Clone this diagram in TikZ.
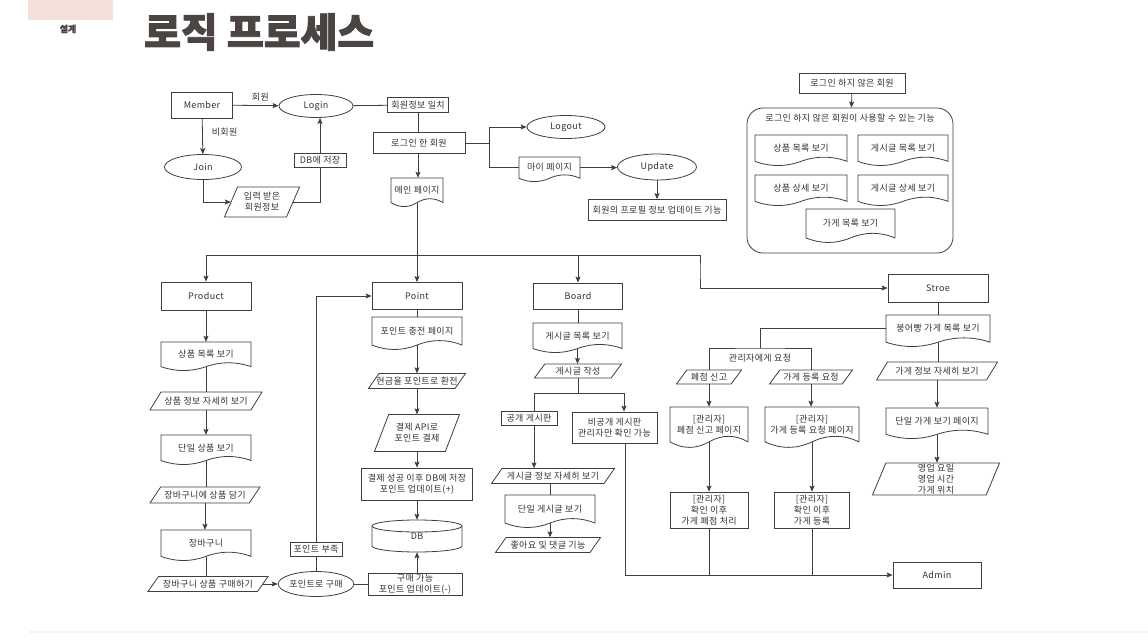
\documentclass[tikz,border=0pt]{standalone}
\usepackage{fontspec}
\setmainfont{Noto Sans CJK KR}[LetterSpace=4]
\newfontfamily\titlefont{Noto Sans CJK KR}[BoldFeatures={FakeBold=2}]
\usetikzlibrary{shapes.geometric,arrows.meta,calc}
\definecolor{lc}{HTML}{3F3F3F}
\definecolor{tc}{HTML}{333333}
\definecolor{titc}{HTML}{4A4442}
\definecolor{pinkc}{HTML}{F6E0DC}
\definecolor{faintc}{HTML}{F8F1EE}
\newcommand\fs{\fontsize{9}{10.8}\selectfont}
\tikzset{
  ln/.style={draw=lc, line width=0.8pt},
  arr/.style={ln, -{Stealth[length=6pt,width=5pt,inset=1.2pt]}},
  shp/.style={draw=lc, fill=white, line width=0.8pt},
  box/.style={draw=lc, fill=white, line width=0.8pt, rectangle, inner sep=0pt, align=center, text=tc, font=\fs},
  ell/.style={draw=lc, fill=white, line width=0.8pt, ellipse, inner sep=0pt, align=center, text=tc, font=\fs},
  hid/.style={rectangle, inner sep=0pt, align=center, text=tc, font=\fs},
  lbl/.style={inner sep=1pt, text=tc, font=\fs},
}
% document shape: name, x0, y0, x1, y1, text
\newcommand\docnode[6]{%
  \pgfmathsetmacro\dnW{#4-#2}%
  \pgfmathsetmacro\dnH{#5-#3}%
  \pgfmathsetmacro\dnM{(#2+#4)/2}%
  \pgfmathsetmacro\dnB{#5-0.15*\dnH}%
  \pgfmathsetmacro\dnU{\dnB-0.18*\dnH}%
  \pgfmathsetmacro\dnD{\dnB+0.18*\dnH}%
  \pgfmathsetmacro\dnXr{#4-\dnW/6}%
  \pgfmathsetmacro\dnXmr{\dnM+\dnW/6}%
  \pgfmathsetmacro\dnXml{\dnM-\dnW/6}%
  \pgfmathsetmacro\dnXl{#2+\dnW/6}%
  \pgfmathsetmacro\dnCy{(#3+\dnB)/2}%
  \pgfmathsetmacro\dnNH{\dnB-#3}%
  \filldraw[shp] (#2,#3) -- (#4,#3) -- (#4,\dnB) .. controls (\dnXr,\dnU) and (\dnXmr,\dnU) .. (\dnM,\dnB) .. controls (\dnXml,\dnD) and (\dnXl,\dnD) .. (#2,\dnB) -- cycle;
  \node[hid, minimum width=\dnW pt, minimum height=\dnNH pt] (#1) at (\dnM,\dnCy) {#6};
}
% parallelogram: name, cx, cy, w, h, text
\newcommand\paranode[6]{%
  \pgfmathsetmacro\pnS{8+#5/6}%
  \pgfmathsetmacro\pnXa{#2-#4/2}%
  \pgfmathsetmacro\pnXb{#2+#4/2}%
  \pgfmathsetmacro\pnYa{#3-#5/2}%
  \pgfmathsetmacro\pnYb{#3+#5/2}%
  \pgfmathsetmacro\pnXc{\pnXa+\pnS}%
  \pgfmathsetmacro\pnXd{\pnXb-\pnS}%
  \pgfmathsetmacro\pnNW{#4-\pnS}%
  \filldraw[shp] (\pnXc,\pnYa) -- (\pnXb,\pnYa) -- (\pnXd,\pnYb) -- (\pnXa,\pnYb) -- cycle;
  \node[hid, minimum width=\pnNW pt, minimum height=#5pt] (#1) at (#2,#3) {#6};
}
\newcommand\vconn[3][ln]{\draw[#1] (#2.south) -- (#2.south |- #3.north);}
\begin{document}
\begin{tikzpicture}[x=1pt,y=-1pt]
\useasboundingbox (0,0) rectangle (1148,644);
\fill[white] (0,0) rectangle (1148,644);
% header
\fill[pinkc] (28,0) rectangle (113,20);
\node[font=\titlefont\fontsize{9}{10}\selectfont\bfseries, text=titc] (sul) at (68,29) {설계};
\node[font=\titlefont\fontsize{40}{42}\selectfont\bfseries, text=titc, anchor=west, inner sep=0pt] (title) at (144,32) {로직 프로세스};
\draw[faintc, line width=1.5pt] (29,632) -- (1148,632);

% login area
\node[box, minimum width=61pt, minimum height=26pt] (member) at (202,105) {Member};
\node[ell, minimum width=74pt, minimum height=23pt] (login) at (316,106) {Login};
\node[ell, minimum width=77pt, minimum height=25pt] (join) at (203,167) {Join};
\paranode{input}{262}{202}{75}{30}{입력 받은\\회원정보}
\node[box, minimum width=61pt, minimum height=15pt] (match) at (418,105) {회원정보 일치};
\node[box, minimum width=92pt, minimum height=21pt] (loggedin) at (419,143) {로그인 한 회원};
\docnode{mainp}{391}{178}{443}{207}{메인 페이지}
\node[ell, minimum width=78pt, minimum height=23pt] (logout) at (566,127) {Logout};
\docnode{mypage}{519}{157}{580}{182}{마이 페이지}
\node[ell, minimum width=79pt, minimum height=26pt] (update) at (657,167) {Update};
\node[box, minimum width=138pt, minimum height=21pt] (profile) at (657,210) {회원의 프로필 정보 업데이트 기능};

\draw[arr] (member) -- (login) node[lbl, pos=0.6, above=3pt] {회원};
\draw[arr] (member) -- (join) node[lbl, pos=0.38, right=8pt] {비회원};
\draw[arr] (join.south) |- (input.west);
\draw[arr] (input.east) -| ($(login.south)+(4,0)$) node[box, pos=0.75, minimum width=52pt, minimum height=14pt] {DB에 저장};
\draw[ln] (login) -- (match);
\draw[ln] (match.south) -- (match.south |- loggedin.north);
\draw[arr] (match.south |- loggedin.south) -- (match.south |- mainp.north);
\coordinate (br1) at (489,143);
\draw[ln] (loggedin.east) -- (br1);
\draw[arr] (br1) |- (logout.west);
\draw[ln] (br1) |- (mypage.west);
\draw[arr] (mypage.east) -- (mypage.east -| update.west);
\draw[arr] (update) -- (profile);

% non-member
\node[box, minimum width=106pt, minimum height=20pt] (nonmem) at (852,83) {로그인 하지 않은 회원};
\node[box, rounded corners=16pt, minimum width=206pt, minimum height=145pt] (nmbox) at (850,180.5) {};
\node[lbl] (nmtitle) at (850,118) {로그인 하지 않은 회원이 사용할 수 있는 기능};
\draw[arr] (nonmem) -- (nmbox);
\docnode{nma}{755}{135}{847}{166}{상품 목록 보기}
\docnode{nmb}{858}{135}{948}{166}{게시글 목록 보기}
\docnode{nmc}{755}{175}{847}{206}{상품 상세 보기}
\docnode{nmd}{858}{175}{948}{206}{게시글 상세 보기}
\docnode{nme}{806}{209}{895}{243}{가게 목록 보기}

% product column
\node[box, minimum width=90pt, minimum height=28pt] (product) at (206,296) {Product};
\docnode{plist}{161}{342}{251}{371}{상품 목록 보기}
\paranode{pdetail}{206}{401}{112}{18}{상품 정보 자세히 보기}
\docnode{psingle}{161}{435}{251}{465}{단일 상품 보기}
\paranode{pcartadd}{205}{495}{110}{16}{장바구니에 상품 담기}
\docnode{cart}{161}{530}{251}{561}{장바구니}
\paranode{cartbuy}{208}{584}{120}{15}{장바구니 상품 구매하기}

% point column
\node[box, minimum width=90pt, minimum height=27pt] (point) at (417,296) {Point};
\docnode{charge}{372}{317}{462}{350}{포인트 충전 페이지}
\paranode{exch}{417}{381}{97}{15}{현금을 포인트로 환전}
\paranode{payapi}{417}{433}{85}{37}{결제 API로\\포인트 결제}
\node[box, minimum width=111pt, minimum height=32pt] (paysucc) at (417,484) {결제 성공 이후 DB에 저장\\포인트 업데이트(+)};
\filldraw[shp] (372,526) -- (372,546) arc[start angle=180, end angle=360, x radius=45pt, y radius=6pt] -- (462,526) arc[start angle=0, end angle=180, x radius=45pt, y radius=6pt] -- cycle;
\draw[ln] (372,526) arc[start angle=180, end angle=360, x radius=45pt, y radius=6pt];
\node[hid, minimum width=90pt, minimum height=32pt] (db) at (417,536) {DB};
\node[box, minimum width=94pt, minimum height=22pt] (canbuy) at (415,584) {구매 가능\\포인트 업데이트(-)};
\node[ell, minimum width=75pt, minimum height=25pt] (buyp) at (316,584) {포인트로 구매};

% board column
\node[box, minimum width=89pt, minimum height=26pt] (board) at (578,296) {Board};
\docnode{blist}{533}{323}{622}{353}{게시글 목록 보기}
\paranode{bwrite}{578}{371}{87}{14}{게시글 작성}
\coordinate (bsplit) at (578,393);
\node[box, minimum width=56pt, minimum height=14pt] (pub) at (529,418.5) {공개 게시판};
\node[box, minimum width=85pt, minimum height=31pt] (priv) at (614.5,427.5) {비공개 게시판\\관리자만 확인 가능};
\paranode{bdetail}{553}{476}{123}{15}{게시글 정보 자세히 보기}
\docnode{bsingle}{505}{495}{595}{528}{단일 게시글 보기}
\paranode{blike}{548}{545}{105}{15}{좋아요 및 댓글 기능}

% store column
\node[box, minimum width=100pt, minimum height=28pt] (stroe) at (938,288) {Stroe};
\docnode{slist}{886}{315}{990}{347}{붕어빵 가게 목록 보기}
\paranode{sdetail}{937}{371}{121}{18}{가게 정보 자세히 보기}
\docnode{ssingle}{886}{408}{988}{439}{단일 가게 보기 페이지}
\paranode{sinfo}{936}{479}{127}{32}{영업 요일\\영업 시간\\가게 위치}
\node[box, minimum width=88pt, minimum height=26pt] (admin) at (937,575) {Admin};
\coordinate (ssplit) at (760,348);
\node[lbl] (reqlbl) at (760,358) {관리자에게 요청};
\paranode{closer}{709}{377}{65}{14}{폐점 신고}
\paranode{reg}{811}{377}{83}{14}{가게 등록 요청}
\docnode{closep}{670}{407}{748}{448}{[관리자]\\폐점 신고 페이지}
\docnode{regp}{765}{407}{859}{448}{[관리자]\\가게 등록 요청 페이지}
\node[box, minimum width=78pt, minimum height=36pt] (closed) at (709,510) {[관리자]\\확인 이후\\가게 폐점 처리};
\node[box, minimum width=75pt, minimum height=36pt] (regd) at (812,510) {[관리자]\\확인 이후\\가게 등록};

% main bus
\coordinate (bus) at (417,255);
\coordinate (bendS) at (700,270);
\draw[arr] (mainp.south) -- (mainp.south |- point.north);
\draw[arr] (bus) -| (product.north);
\draw[arr] (bus) -| (board.north);
\draw[arr] (bus) -| (bendS) |- (stroe.west);

% product edges
\vconn[arr]{product}{plist}
\vconn{plist}{pdetail}
\vconn[arr]{pdetail}{psingle}
\vconn{psingle}{pcartadd}
\vconn[arr]{pcartadd}{cart}
\vconn{cart}{cartbuy}
\draw[arr] (cartbuy.east) -- (buyp.west);

% point edges
\vconn{point}{charge}
\vconn[arr]{charge}{exch}
\vconn[arr]{exch}{payapi}
\vconn[arr]{payapi}{paysucc}
\vconn[arr]{paysucc}{db}
\draw[ln] (buyp) -- (canbuy);
\draw[arr] (db.south |- canbuy.north) -- (db.south);
\draw[arr] (buyp.north) |- (point.west) node[box, pos=0.04, minimum width=52pt, minimum height=14pt] {포인트 부족};

% board edges
\vconn{board}{blist}
\vconn[arr]{blist}{bwrite}
\draw[ln] (bwrite.south) -- (bsplit);
\draw[ln] (bsplit) -| ($(pub.north)+(5,0)$);
\draw[arr] (bsplit) -| ($(priv.north)+(9.5,0)$);
\draw[arr] ($(pub.south)+(5,0)$) -- ($(pub.south |- bdetail.north)+(5,0)$);
\draw[ln] (bsingle.north |- bdetail.south) -- (bsingle.north);
\draw[arr] (bsingle.south) -- (bsingle.south |- blike.north);
\draw[arr] ($(priv.south)+(10.5,0)$) |- (admin.west);

% store edges
\vconn{stroe}{slist}
\draw[ln] (slist.west) -| (ssplit);
\draw[ln] (closer.north) |- (ssplit) -| (reg.north);
\vconn[arr]{closer}{closep}
\vconn[arr]{reg}{regp}
\vconn[arr]{closep}{closed}
\vconn[arr]{regp}{regd}
\draw[ln] (closed.south) -- (closed.south |- admin.west);
\draw[ln] (regd.south) -- (regd.south |- admin.west);
\vconn{slist}{sdetail}
\vconn[arr]{sdetail}{ssingle}
\vconn[arr]{ssingle}{sinfo}
\end{tikzpicture}
\end{document}
